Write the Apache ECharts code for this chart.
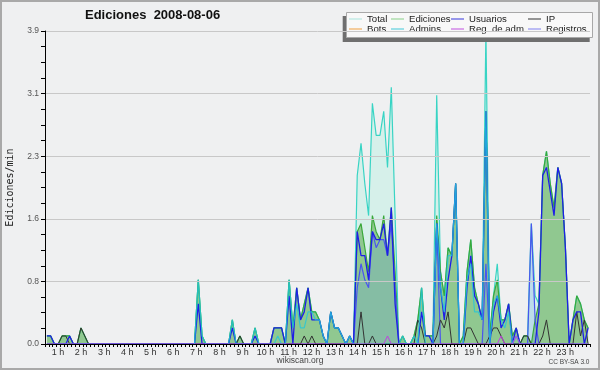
<!DOCTYPE html>
<html><head><meta charset="utf-8">
<script src="https://cdn.jsdelivr.net/npm/echarts@6/dist/echarts.min.js"></script>
<style>html,body{margin:0;padding:0;background:#eff0f1}#c{width:600px;height:370px}</style>
</head><body><div id="c"></div>
<script>
const hourLabels = ['', '1 h','2 h','3 h','4 h','5 h','6 h','7 h','8 h','9 h','10 h','11 h','12 h','13 h','14 h','15 h','16 h','17 h','18 h','19 h','20 h','21 h','22 h','23 h'];

const total = [
 0.1,0.1,0,0,0.1,0.1, 0.1,0,0,0.2,0.1,0, 0,0,0,0,0,0, 0,0,0,0,0,0,
 0,0,0,0,0,0, 0,0,0,0,0,0, 0,0,0,0,0.8,0.1, 0,0,0,0,0,0,
 0,0.3,0,0.1,0,0, 0,0.2,0,0,0,0, 0.2,0.2,0.2,0,0.8,0.2, 0.7,0.3,0.5,0.7,0.4,0.4,
 0.3,0.1,0,0.4,0.2,0.2, 0.1,0,0.1,0,2.1,2.5, 2.0,1.6,3.0,2.6,2.6,2.9, 2.2,3.2,1.6,0,0.1,0,
 0,0.1,0.3,0.7,0.1,0.1, 0.1,3.1,0.9,0.6,1.2,1.1, 2.0,0,0.1,0.9,1.3,0.7, 0.5,0.3,3.9,0.1,0.6,1.0,
 0.3,0.3,0.5,0.1,0.2,0, 0.1,0.1,1.5,0.6,0.5,2.1, 2.4,2.0,1.7,2.2,2.0,1.2, 0,0.3,0.6,0.5,0.3,0.2];
const ediciones = [
 0.1,0.1,0,0,0.1,0.1, 0.1,0,0,0.2,0.1,0, 0,0,0,0,0,0, 0,0,0,0,0,0,
 0,0,0,0,0,0, 0,0,0,0,0,0, 0,0,0,0,0.8,0.1, 0,0,0,0,0,0,
 0,0.3,0,0.1,0,0, 0,0.2,0,0,0,0, 0.2,0.2,0.2,0,0.8,0.2, 0.7,0.3,0.5,0.7,0.4,0.4,
 0.3,0.1,0,0.4,0.2,0.2, 0.1,0,0.1,0,1.4,1.5, 1.2,0.9,1.6,1.4,1.3,1.6, 1.1,1.7,0.9,0,0.1,0,
 0,0.1,0.3,0.7,0.1,0.1, 0.1,1.6,0.9,0.6,1.2,1.1, 2.0,0,0.1,0.9,1.3,0.7, 0.5,0.3,2.9,0.1,0.6,0.8,
 0.3,0.3,0.5,0.1,0.2,0, 0.1,0.1,0,0.3,0.5,2.1, 2.4,2.0,1.7,2.2,2.0,1.2, 0,0.3,0.6,0.5,0.3,0.2];
const usuarios = [
 0.1,0.1,0,0,0,0, 0.1,0,0,0,0,0, 0,0,0,0,0,0, 0,0,0,0,0,0,
 0,0,0,0,0,0, 0,0,0,0,0,0, 0,0,0,0,0.5,0, 0,0,0,0,0,0,
 0,0.2,0,0,0,0, 0,0.1,0,0,0,0, 0.2,0.2,0.2,0,0.6,0, 0.7,0.3,0.4,0.7,0.3,0.3,
 0.3,0.1,0,0.4,0.2,0.2, 0.1,0,0.1,0,1.4,1.1, 1.1,0.8,1.4,1.3,1.3,1.5, 1.1,1.7,0.5,0,0,0,
 0,0,0,0.4,0.1,0.1, 0,1.5,0.7,0.3,0.8,1.1, 2.0,0,0,0.7,1.1,0.6, 0.5,0.3,2.9,0,0.4,0.6,
 0.2,0.3,0.5,0,0.2,0, 0,0,0,0,0.4,2.1, 2.2,1.9,1.6,2.2,2.0,1.2, 0,0.3,0.4,0.4,0,0.2];
const ip = [
 0,0,0,0,0.1,0.1, 0,0,0,0.2,0.1,0, 0,0,0,0,0,0, 0,0,0,0,0,0,
 0,0,0,0,0,0, 0,0,0,0,0,0, 0,0,0,0,0,0, 0,0,0,0,0,0,
 0,0,0,0.1,0,0, 0,0,0,0,0,0, 0,0,0,0,0,0, 0,0,0.1,0,0.1,0,
 0,0,0,0,0,0, 0,0,0,0,0,0.4, 0,0,0.1,0,0,0, 0,0,0,0,0,0,
 0,0,0.3,0.2,0,0, 0,0.1,0.3,0.2,0.4,0, 0,0,0,0.2,0.2,0.1, 0,0,0,0.1,0.2,0.2,
 0.1,0,0,0,0,0, 0.1,0.1,0,0,0,0.1, 0.3,0,0,0,0,0, 0,0,0.4,0.1,0.3,0];
const bots = [];
const admins = [
 0,0,0,0,0,0, 0,0,0,0,0,0, 0,0,0,0,0,0, 0,0,0,0,0,0,
 0,0,0,0,0,0, 0,0,0,0,0,0, 0,0,0,0,0.8,0.1, 0,0,0,0,0,0,
 0,0.3,0,0,0,0, 0,0.2,0,0,0,0, 0,0.1,0,0,0.8,0.2, 0.5,0.2,0.2,0.4,0.4,0.3,
 0.3,0.1,0,0.4,0.2,0.2, 0.1,0,0.1,0,0,0, 0,0,0,0,0,0, 0,0,0,0,0.1,0,
 0,0.1,0,0.7,0,0, 0,1.5,0.7,0.4,1.1,1.1, 2.0,0,0,0.8,1.0,0.4, 0.4,0.3,2.9,0,0.5,0.6,
 0.3,0.2,0.4,0,0.1,0, 0,0,0,0,0,0, 0,0,0,0,0,0, 0,0,0,0,0,0];
const regAdm = [
 0,0,0,0,0,0, 0,0,0,0,0,0, 0,0,0,0,0,0, 0,0,0,0,0,0,
 0,0,0,0,0,0, 0,0,0,0,0,0, 0,0,0,0,0,0, 0,0,0,0,0,0,
 0,0,0,0,0,0, 0,0,0,0,0,0, 0,0,0,0,0,0, 0,0,0,0,0,0,
 0,0,0,0,0,0, 0,0,0,0,0,0, 0,0,0,0,0,0, 0.1,0,0,0,0,0,
 0,0,0,0,0,0, 0,0,0,0,0,0, 0,0,0,0,0,0, 0,0,0,0,0,0,
 0.1,0,0,0,0.1,0, 0,0,0,0,0,0, 0,0,0,0,0,0, 0,0,0,0,0,0];
const registros = [
 0,0,0,0,0,0, 0,0,0,0,0,0, 0,0,0,0,0,0, 0,0,0,0,0,0,
 0,0,0,0,0,0, 0,0,0,0,0,0, 0,0,0,0,0,0, 0,0,0,0,0,0,
 0,0,0,0,0,0, 0,0,0,0,0,0, 0,0,0,0,0,0, 0,0,0,0,0,0,
 0,0,0,0,0,0, 0,0,0,0,0.7,1.0, 0.8,0.7,1.4,1.2,1.3,1.3, 1.1,1.5,0.7,0,0,0,
 0,0,0,0,0,0, 0,1.5,0,0,0,0, 0,0,0,0,0,0, 0,0,1.0,0,0,0,
 0,0,0,0,0,0, 0,0,1.5,0.3,0,0, 0,0,0,0,0,0, 0,0,0,0,0,0];

const legendColors = {
  'Total':'#a8e4dc', 'Ediciones':'#88d088', 'Usuarios':'#3636dc', 'IP':'#333333',
  'Bots':'#f0a040', 'Admins.':'#40c8d8', 'Reg. de adm.':'#c050e0', 'Registros':'#8080f0'
};

const times = [];
for (let h = 0; h < 24; h++) for (let m = 0; m < 60; m += 10)
  times.push(String(h).padStart(2,'0') + ':' + String(m).padStart(2,'0'));

const chart = echarts.init(document.getElementById('c'), null, {renderer:'canvas'});
const FONT = 'Liberation Sans';
function ser(name, data, lineColor, width, extra) {
  return Object.assign({
    name, type:'line', data, color:legendColors[name], showSymbol:false, symbol:'none', silent:true,
    lineStyle:{color:lineColor, width}, animation:false
  }, extra || {});
}
function legendCol(names, left) {
  return {orient:'vertical', left, top:14, icon:'rect', itemWidth:13, itemHeight:1, itemGap:0, padding:0,
    selectedMode:false, z:8,
    data:names.map(n => ({name:n, icon:'rect', itemStyle:{color:legendColors[n], borderWidth:0}})),
    textStyle:{fontFamily:FONT, fontSize:9.6, color:'#222', lineHeight:10}};
}
chart.setOption({
  backgroundColor:'#eff0f1',
  animation:false,
  title:{text:'Ediciones  2008-08-06', left:85, top:9, padding:0,
    textStyle:{fontFamily:FONT, fontWeight:'bold', fontSize:13, color:'#111'}},
  grid:[{left:45, right:10, top:31, bottom:26, containLabel:false, outerBoundsMode:'none'},
        {left:35, right:11.8, top:31, bottom:26, containLabel:false, outerBoundsMode:'none'}],
  legend:[
    legendCol(['Total','Bots'], 349),
    legendCol(['Ediciones','Admins.'], 391),
    legendCol(['Usuarios','Reg. de adm.'], 451),
    legendCol(['IP','Registros'], 528)
  ],
  xAxis:[{type:'category', data:times, boundaryGap:true, z:10, gridIndex:0,
    axisLine:{lineStyle:{color:'#000', width:1}},
    axisTick:{show:true, interval:0, length:3, lineStyle:{color:'#000'}},
    axisLabel:{show:false},
    splitLine:{show:false}},
   {type:'value', gridIndex:1, min:0, max:24, interval:1, z:10,
    axisLine:{show:false}, axisTick:{show:false}, splitLine:{show:false},
    axisLabel:{formatter:(v)=> hourLabels[v] || '', fontFamily:FONT, fontSize:9, color:'#333', margin:4}}],
  yAxis:[{type:'value', min:0, max:3.9, interval:0.78, z:10, gridIndex:0,
    name:'Ediciones/min', nameLocation:'middle', nameGap:30, nameRotate:90,
    nameTextStyle:{fontFamily:'DejaVu Sans Mono', fontSize:10, color:'#222'},
    axisLine:{show:true, lineStyle:{color:'#000'}},
    axisTick:{show:true, length:4, lineStyle:{color:'#000'}},
    minorTick:{show:true, splitNumber:4, length:4, lineStyle:{color:'#000'}},
    axisLabel:{formatter:(v)=> v.toFixed(1), fontFamily:FONT, fontSize:8.5, color:'#555', margin:6},
    splitLine:{show:true, lineStyle:{color:'#c8c8c8', width:1}}},
   {type:'value', gridIndex:1, show:false, min:0, max:1}],
  series:[
    ser('Total', total, '#38d4c4', 1.2, {areaStyle:{color:'#d6f0ea', opacity:1}}),
    ser('Ediciones', ediciones, '#3aa83a', 1.2, {areaStyle:{color:'#90c890', opacity:1}}),
    ser('Registros', registros, '#4a55ee', 1.2, {areaStyle:{color:'rgba(100,150,235,0.32)'}}),
    ser('IP', ip, '#333333', 1),
    ser('Usuarios', usuarios, '#1f1fe6', 1.3),
    ser('Admins.', admins, '#22c6dc', 1.2, {lineStyle:{color:'#22c6dc', width:1.2, opacity:0.8}}),
    ser('Reg. de adm.', regAdm, '#c040e0', 1),
    ser('Bots', bots, '#f0a040', 1)
  ],
  graphic:[
    {type:'rect', z:100, silent:true, shape:{x:1, y:1, width:598, height:368},
      style:{fill:'none', stroke:'#a9a9a9', lineWidth:2}},
    {type:'rect', z:5, silent:true, shape:{x:342.7, y:16, width:247, height:26}, style:{fill:'#6f6f6f'}},
    {type:'rect', z:6, silent:true, shape:{x:346.5, y:12.5, width:246, height:25},
      style:{fill:'#f8f8f8', stroke:'#a8a8a8', lineWidth:1}},
    {type:'text', z:6, silent:true, style:{text:'wikiscan.org', x:300, y:361, align:'center', verticalAlign:'middle',
      font:'8.5px "Liberation Sans"', fill:'#444'}},
    {type:'text', z:6, silent:true, style:{text:'CC BY-SA 3.0', x:569, y:362.5, align:'center', verticalAlign:'middle',
      font:'6.5px "Liberation Sans"', fill:'#444'}}
  ]
});
</script></body></html>
